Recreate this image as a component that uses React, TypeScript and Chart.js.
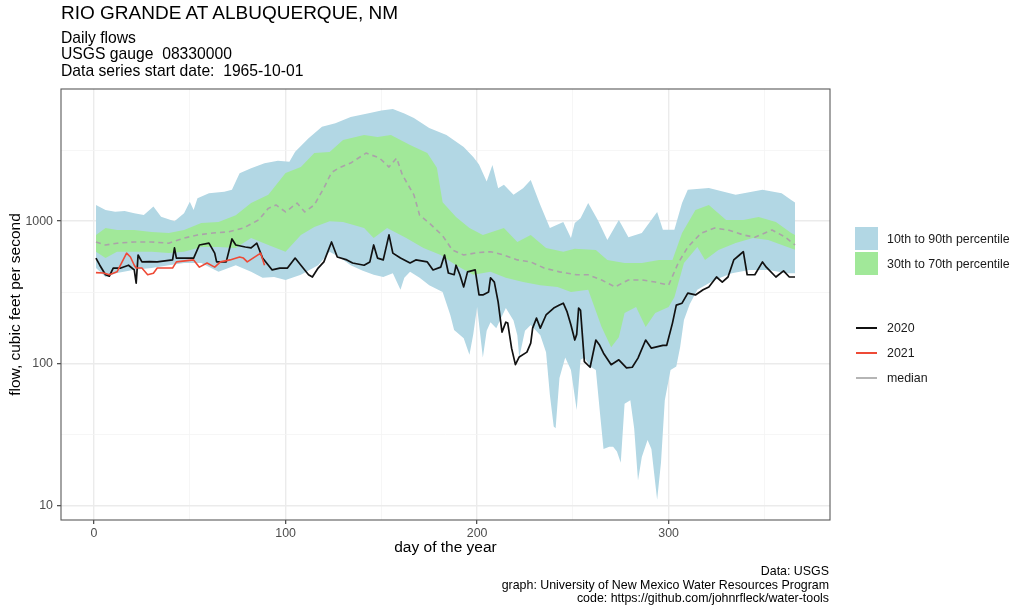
import React, { useEffect, useRef } from "react";
import { Chart, registerables } from "chart.js";

Chart.register(...registerables);

const FONT = '"Liberation Sans", Arial, Helvetica, sans-serif';

// ---- percentile bands (day of year, cfs) ----
const p90Days = [1, 6, 11, 16, 21, 26, 31, 35, 42, 47, 50, 52, 54, 60, 68, 72, 74, 76, 82, 89, 96, 102, 105, 112, 119, 126, 134, 144, 150, 156, 162, 167, 175, 184, 193, 198, 201, 203, 205, 208, 211, 214, 219, 224, 228, 233, 238, 245, 249, 251, 254, 258, 263, 268, 274, 279, 286, 294, 297, 303, 307, 310, 321, 335, 349, 359, 364, 366];
const p90Flow = [1300, 1200, 1165, 1180, 1135, 1105, 1265, 1075, 1000, 1135, 1370, 1200, 1450, 1570, 1610, 1660, 1900, 2170, 2350, 2550, 2660, 2620, 3080, 3820, 4610, 4880, 5400, 5750, 6000, 6130, 5700, 5300, 4510, 4030, 3320, 2830, 2500, 2180, 1900, 2480, 1700, 1800, 1530, 1700, 1950, 1300, 895, 985, 760, 970, 1050, 1340, 1020, 738, 1020, 770, 825, 1160, 870, 870, 1340, 1660, 1710, 1530, 1660, 1570, 1410, 1350];

const p10Days = [1, 6, 12, 21, 30, 39, 47, 56, 65, 74, 82, 88, 94, 100, 108, 117, 123, 128, 134, 140, 146, 151, 156, 160, 162, 165, 170, 175, 182, 186, 188, 193, 196, 198, 200, 203, 205, 207, 210, 215, 219, 221, 222, 225, 228, 233, 236, 238, 240, 241, 243, 246, 249, 252, 254, 256, 259, 262, 264, 266, 269, 271, 273, 275, 277, 280, 282, 284, 286, 289, 291, 294, 296, 298, 301, 304, 306, 308, 311, 315, 324, 333, 342, 352, 362, 366];
const p10Flow = [468, 405, 432, 455, 468, 490, 508, 508, 440, 490, 440, 400, 405, 386, 420, 490, 610, 560, 490, 450, 420, 405, 430, 329, 400, 440, 400, 355, 318, 219, 172, 150, 115, 160, 249, 110, 170, 195, 177, 245, 200, 158, 110, 170, 186, 158, 120, 60, 36, 35, 79, 110, 90, 47, 106, 110, 95, 90, 47, 25, 26, 26, 24, 20, 52, 55, 35, 15, 22, 29, 25, 11, 20, 55, 90, 95, 130, 202, 260, 329, 386, 430, 454, 454, 430, 430];

const p70Days = [1, 6, 12, 21, 30, 39, 47, 56, 65, 74, 82, 91, 100, 108, 115, 123, 130, 141, 148, 155, 165, 174, 179, 182, 189, 196, 203, 214, 221, 228, 236, 245, 251, 262, 268, 277, 286, 295, 302, 307, 314, 321, 330, 339, 347, 356, 364, 366];
const p70Flow = [800, 895, 867, 867, 840, 825, 867, 970, 985, 1100, 1340, 1530, 2180, 2400, 3010, 3060, 3720, 4030, 3900, 4030, 3430, 3010, 2370, 1360, 1070, 895, 800, 895, 714, 800, 648, 610, 640, 628, 534, 508, 508, 534, 534, 825, 1200, 1300, 1020, 1020, 1070, 985, 825, 800];

const p30Days = [1, 6, 12, 21, 30, 39, 47, 56, 65, 74, 82, 91, 100, 108, 115, 123, 130, 141, 146, 153, 163, 172, 181, 189, 198, 207, 215, 224, 233, 242, 249, 258, 265, 270, 274, 277, 283, 288, 293, 300, 303, 308, 315, 319, 326, 335, 344, 352, 362, 366];
const p30Flow = [610, 550, 610, 610, 610, 596, 610, 658, 658, 648, 760, 680, 610, 800, 910, 1000, 985, 895, 760, 895, 760, 648, 578, 490, 420, 440, 400, 373, 355, 345, 318, 329, 180, 130, 153, 226, 249, 180, 226, 249, 292, 508, 658, 534, 628, 702, 760, 738, 658, 628];

const medianDays = [1, 6, 12, 21, 30, 39, 47, 54, 62, 70, 78, 86, 91, 95, 100, 106, 110, 115, 120, 124, 128, 134, 142, 149, 154, 158, 161, 167, 170, 175, 182, 187, 193, 200, 207, 214, 221, 228, 235, 243, 252, 258, 265, 272, 279, 286, 293, 300, 305, 310, 317, 324, 331, 339, 345, 354, 361, 366];
const medianFlow = [714, 680, 700, 714, 714, 700, 760, 800, 825, 840, 895, 1020, 1230, 1300, 1160, 1340, 1160, 1300, 1710, 2200, 2370, 2560, 3010, 2780, 2400, 2780, 2110, 1530, 1100, 970, 790, 628, 578, 600, 610, 578, 534, 517, 468, 440, 420, 420, 386, 345, 386, 386, 373, 355, 508, 658, 825, 895, 867, 800, 770, 867, 770, 680];

// ---- individual years ----
const y2020Days = [1, 3, 6, 8, 10, 12, 14, 18, 21, 22, 23, 25, 29, 33, 41, 42, 43, 52, 55, 60, 63, 64, 69, 72, 74, 79, 82, 85, 88, 93, 97, 101, 105, 108, 112, 114, 117, 120, 124, 127, 132, 135, 141, 144, 146, 148, 151, 154, 156, 160, 165, 168, 174, 177, 181, 183, 185, 188, 189, 191, 193, 195, 199, 201, 203, 206, 207, 209, 211, 213, 215, 216, 218, 220, 222, 226, 228, 229, 231, 233, 236, 240, 243, 245, 247, 249, 251, 252, 253, 254, 256, 259, 262, 264, 266, 270, 274, 278, 281, 284, 288, 291, 297, 299, 302, 304, 307, 310, 314, 318, 321, 325, 328, 331, 334, 337, 339, 341, 345, 349, 351, 356, 360, 363, 366];
const y2020Flow = [550, 490, 420, 410, 468, 468, 468, 490, 454, 367, 578, 517, 520, 517, 534, 648, 550, 550, 680, 700, 596, 517, 517, 750, 680, 658, 648, 700, 550, 454, 468, 468, 550, 490, 420, 405, 468, 517, 714, 560, 534, 508, 490, 517, 680, 550, 534, 800, 596, 550, 508, 534, 517, 454, 475, 578, 432, 420, 490, 420, 345, 440, 454, 303, 303, 318, 400, 373, 270, 166, 195, 192, 128, 98, 111, 120, 139, 177, 208, 177, 219, 245, 257, 265, 230, 186, 146, 160, 245, 236, 103, 94, 146, 134, 118, 98, 106, 93, 94, 109, 146, 128, 134, 134, 192, 257, 265, 312, 303, 329, 345, 405, 373, 405, 534, 578, 610, 420, 420, 517, 475, 405, 447, 405, 405];

const y2021Days = [1, 5, 8, 12, 13, 17, 19, 21, 22, 25, 28, 31, 33, 41, 43, 52, 55, 59, 63, 66, 71, 76, 78, 80, 83, 87, 89];
const y2021Flow = [435, 432, 420, 440, 468, 596, 560, 490, 468, 468, 420, 430, 468, 468, 517, 534, 475, 508, 475, 517, 534, 560, 550, 517, 550, 596, 490];

// ---- axes ----
const xTickValues = [0, 50, 100, 150, 200, 250, 300, 350];
const xLabelled = [0, 100, 200, 300];
const yTickValues = [10, 31.6228, 100, 316.228, 1000, 3162.28];
const yLabelled = [10, 100, 1000];
const xRange = [-17.25, 384.25];
const yRange = [7.93, 8490];

const pts = (d: number[], v: number[]) => d.map((x, i) => ({ x, y: v[i] }));

const isMajor = (v: number, list: number[]) => list.some((m) => Math.abs(m - v) < 1e-6);

const panelBorder = {
  id: "panelBorder",
  afterDatasetsDraw(chart: any) {
    const { ctx, chartArea: a } = chart;
    ctx.save();
    ctx.strokeStyle = "#5a5a5a";
    ctx.lineWidth = 1.1;
    ctx.strokeRect(a.left, a.top, a.right - a.left, a.bottom - a.top);
    ctx.restore();
  },
};

const BLUE = "#B2D7E4";
const GREEN = "#A1E899";

export default function App() {
  const ref = useRef<HTMLCanvasElement>(null);

  useEffect(() => {
    const line = { pointRadius: 0, tension: 0, borderJoinStyle: "round" as const };
    const chart = new Chart(ref.current as HTMLCanvasElement, {
      type: "line",
      data: {
        datasets: [
          { label: "2021", data: pts(y2021Days, y2021Flow), borderColor: "#EE4A36", borderWidth: 1.6, fill: false, order: 0, ...line },
          { label: "2020", data: pts(y2020Days, y2020Flow), borderColor: "#111111", borderWidth: 1.7, fill: false, order: 1, ...line },
          { label: "median", data: pts(medianDays, medianFlow), borderColor: "#ABA2A9", borderWidth: 1.6, borderDash: [5, 4], fill: false, order: 2, ...line },
          { label: "p70", data: pts(p70Days, p70Flow), borderColor: "rgba(0,0,0,0)", borderWidth: 0, backgroundColor: GREEN, fill: 4, order: 3, ...line },
          { label: "p30", data: pts(p30Days, p30Flow), borderColor: "rgba(0,0,0,0)", borderWidth: 0, fill: false, order: 4, ...line },
          { label: "p90", data: pts(p90Days, p90Flow), borderColor: "rgba(0,0,0,0)", borderWidth: 0, backgroundColor: BLUE, fill: 6, order: 5, ...line },
          { label: "p10", data: pts(p10Days, p10Flow), borderColor: "rgba(0,0,0,0)", borderWidth: 0, fill: false, order: 6, ...line },
        ],
      },
      options: {
        responsive: false,
        animation: false,
        devicePixelRatio: 1,
        layout: { padding: { left: 0, top: 89, right: 194, bottom: 50 } },
        plugins: {
          legend: { display: false },
          tooltip: { enabled: false },
          title: { display: false },
        },
        scales: {
          x: {
            type: "linear",
            bounds: "data",
            min: xRange[0],
            max: xRange[1],
            afterBuildTicks: (s: any) => {
              s.ticks = xTickValues.map((value) => ({ value }));
            },
            afterFit: (s: any) => {
              s.height = 40;
            },
            border: { display: false },
            grid: {
              color: (c: any) => (c.tick && isMajor(c.tick.value, xLabelled) ? "#EBEBEB" : "#F4F4F4"),
              lineWidth: (c: any) => (c.tick && isMajor(c.tick.value, xLabelled) ? 1.4 : 0.8),
              tickColor: (c: any) => (c.tick && isMajor(c.tick.value, xLabelled) ? "#333333" : "rgba(0,0,0,0)"),
              tickLength: 4,
              tickWidth: 1.1,
            },
            ticks: {
              autoSkip: false,
              maxRotation: 0,
              padding: 2.5,
              color: "#4D4D4D",
              font: { family: FONT, size: 12.4 },
              callback: (v: any) => (isMajor(Number(v), xLabelled) ? String(v) : ""),
            },
            title: {
              display: true,
              text: "day of the year",
              color: "#000000",
              font: { family: FONT, size: 15.5 },
              padding: { top: 0, bottom: 3 },
            },
          },
          y: {
            type: "logarithmic",
            bounds: "data",
            min: yRange[0],
            max: yRange[1],
            afterBuildTicks: (s: any) => {
              s.ticks = yTickValues.map((value) => ({ value }));
            },
            afterFit: (s: any) => {
              s.width = 61;
            },
            border: { display: false },
            grid: {
              color: (c: any) => (c.tick && isMajor(c.tick.value, yLabelled) ? "#EBEBEB" : "#F4F4F4"),
              lineWidth: (c: any) => (c.tick && isMajor(c.tick.value, yLabelled) ? 1.4 : 0.8),
              tickColor: (c: any) => (c.tick && isMajor(c.tick.value, yLabelled) ? "#333333" : "rgba(0,0,0,0)"),
              tickLength: 4,
              tickWidth: 1.1,
            },
            ticks: {
              autoSkip: false,
              padding: 4,
              color: "#4D4D4D",
              font: { family: FONT, size: 12.4 },
              callback: (v: any) => (isMajor(Number(v), yLabelled) ? String(Math.round(Number(v))) : ""),
            },
            title: {
              display: true,
              text: "flow, cubic feet per second",
              color: "#000000",
              font: { family: FONT, size: 15.5 },
              padding: { top: 6, bottom: 0 },
            },
          },
        },
      } as any,
      plugins: [panelBorder],
    });
    return () => chart.destroy();
  }, []);

  const legendText: React.CSSProperties = {
    position: "absolute",
    left: 887,
    fontSize: 12.4,
    lineHeight: "14px",
    color: "#1a1a1a",
    whiteSpace: "nowrap",
  };

  return (
    <div style={{ position: "fixed", left: 0, top: 0, width: 1024, height: 610, background: "#ffffff", fontFamily: FONT, overflow: "hidden" }}>
      <canvas ref={ref} width={1024} height={610} style={{ position: "absolute", left: 0, top: 0, width: 1024, height: 610 }} />
      <div style={{ position: "absolute", left: 61, top: 3, fontSize: 19, lineHeight: "19px", color: "#000", whiteSpace: "nowrap" }}>
        RIO GRANDE AT ALBUQUERQUE, NM
      </div>
      <div style={{ position: "absolute", left: 61, top: 29.6, fontSize: 15.7, lineHeight: "16.7px", color: "#000", whiteSpace: "pre" }}>
        {"Daily flows\nUSGS gauge  08330000\nData series start date:  1965-10-01"}
      </div>
      <div style={{ position: "absolute", right: 195, top: 565, fontSize: 12.4, lineHeight: "13.5px", color: "#000", textAlign: "right", whiteSpace: "pre" }}>
        {"Data: USGS\ngraph: University of New Mexico Water Resources Program\ncode: https://github.com/johnrfleck/water-tools"}
      </div>

      {/* legend */}
      <div style={{ position: "absolute", left: 855, top: 227, width: 23, height: 23, background: BLUE }} />
      <div style={{ position: "absolute", left: 855, top: 252, width: 23, height: 23, background: GREEN }} />
      <div style={{ ...legendText, top: 231.5 }}>10th to 90th percentile</div>
      <div style={{ ...legendText, top: 257 }}>30th to 70th percentile</div>

      <div style={{ position: "absolute", left: 856, top: 326.7, width: 21, height: 2, background: "#111111" }} />
      <div style={{ position: "absolute", left: 856, top: 352.3, width: 21, height: 2, background: "#EE4A36" }} />
      <div style={{ position: "absolute", left: 856, top: 377, width: 21, height: 2, background: "#B5B5B5" }} />
      <div style={{ ...legendText, top: 320.7 }}>2020</div>
      <div style={{ ...legendText, top: 346.3 }}>2021</div>
      <div style={{ ...legendText, top: 371 }}>median</div>
    </div>
  );
}
